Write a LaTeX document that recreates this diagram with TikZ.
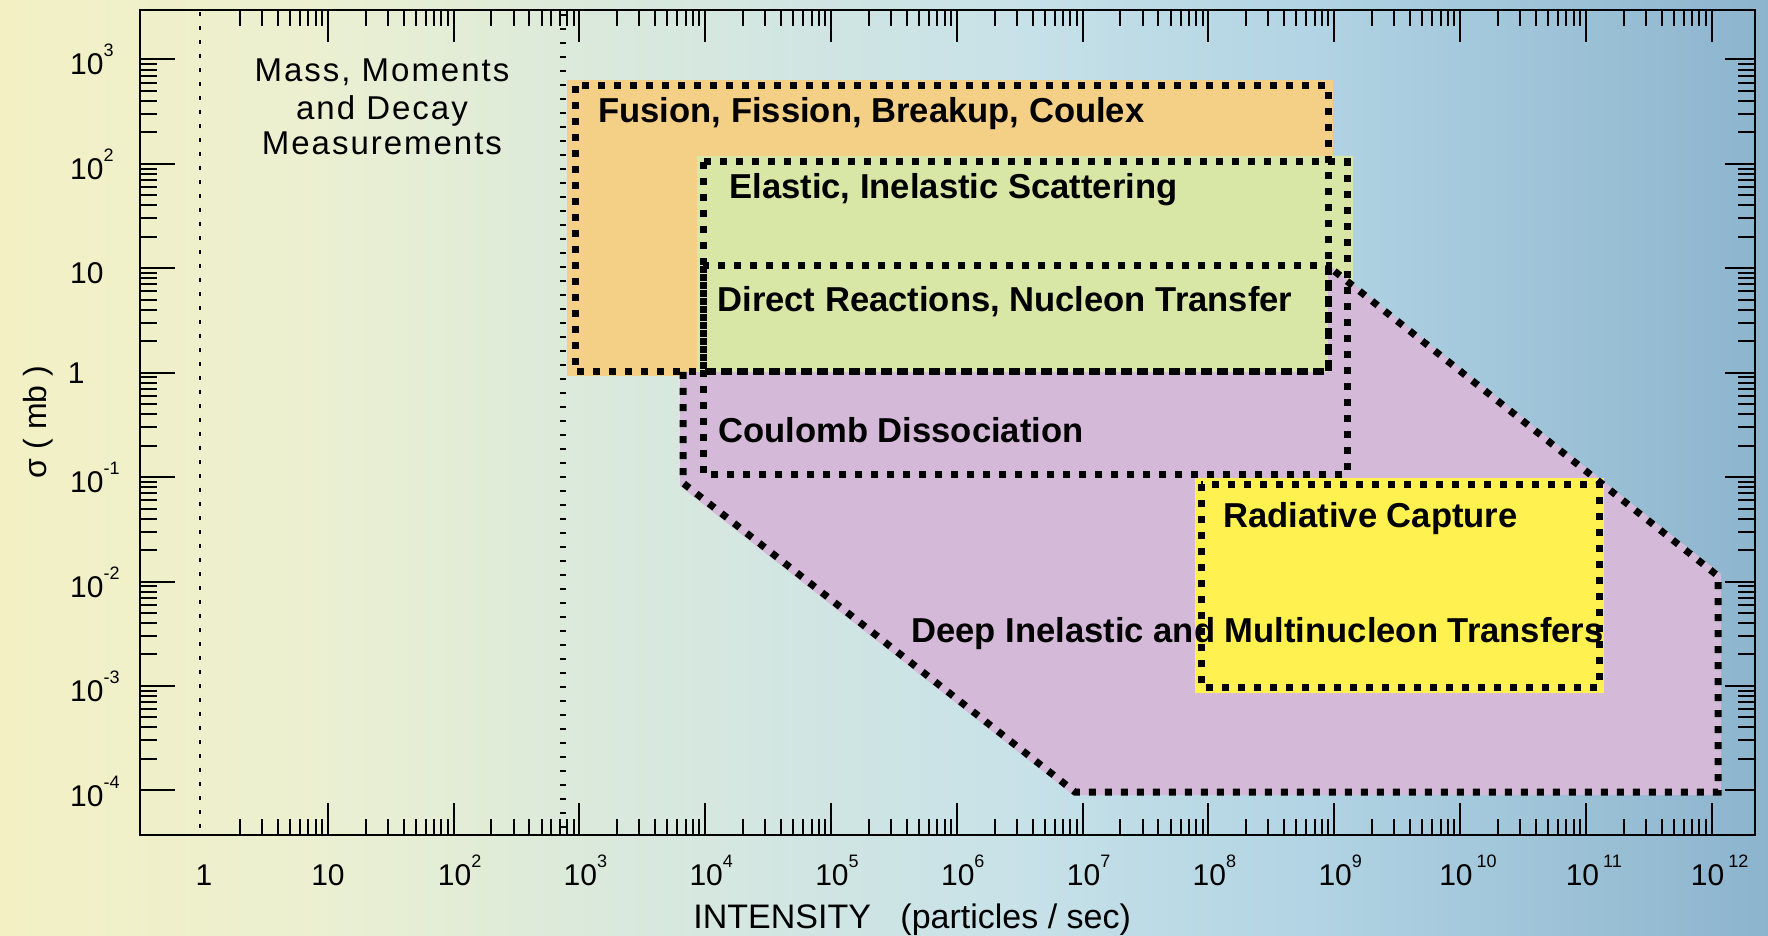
\documentclass[tikz,border=0pt]{standalone}
\usepackage{fontspec}
\setmainfont{Liberation Sans}
\newfontfamily\massfont[LetterSpace=6]{Liberation Sans}
\definecolor{orangefill}{RGB}{244,207,134}
\definecolor{greenfill}{RGB}{216,230,166}
\definecolor{purplefill}{RGB}{213,185,217}
\definecolor{yellowfill}{RGB}{255,241,80}
\pgfdeclarehorizontalshading{bgshade}{100bp}{rgb(0bp)=(0.953,0.941,0.769); rgb(25bp)=(0.953,0.941,0.769); rgb(33.5bp)=(0.925,0.941,0.816); rgb(42bp)=(0.855,0.914,0.863); rgb(53.5bp)=(0.784,0.886,0.91); rgb(62bp)=(0.698,0.831,0.894); rgb(75bp)=(0.549,0.706,0.804); rgb(100bp)=(0.549,0.706,0.804)}
\newcommand\sups[1]{\raisebox{9pt}{\fontsize{9pt}{10pt}\selectfont #1}}
\begin{document}
\begin{tikzpicture}[x=0.5pt,y=-0.5pt,
  dotbox/.style={line width=3.5pt, dash pattern=on 3.5pt off 4.5pt, black},
  guideA/.style={line width=1pt, dash pattern=on 2pt off 5pt, black},
  guideB/.style={line width=3pt, dash pattern=on 1pt off 6pt, black},
  frameline/.style={line width=1.25pt, black},
  tickline/.style={line width=1pt, black},
  xlab/.style={font=\fontsize{15pt}{18pt}\selectfont, anchor=base, inner sep=0pt},
  ylab/.style={font=\fontsize{15pt}{18pt}\selectfont, anchor=base east, inner sep=0pt},
  boldlbl/.style={font=\fontsize{17.3pt}{20pt}\selectfont\bfseries, anchor=base west, inner sep=0pt},
  masslbl/.style={font=\fontsize{16.5pt}{19pt}\massfont, anchor=base, inner sep=0pt}]
\useasboundingbox (0,0) rectangle (1768,936);
\shade[shading=bgshade] (0,0) rectangle (1768,936);

% filled regions
\fill[orangefill] (567,80) rectangle (1333,376);
\fill[purplefill] (680,372) -- (680,486) -- (1073,795) -- (1721,795) -- (1721,574) -- (1328,264) -- (1328,372) -- cycle;
\fill[greenfill] (697,156) -- (1353,156) -- (1353,284) -- (1328,264) -- (1328,372) -- (697,372) -- cycle;
\fill[yellowfill] (1195,478) rectangle (1604,693);

% guide lines
\draw[guideA] (200,12) -- (200,835);
\draw[guideB] (563,14) -- (563,835);

% dotted outlines
\draw[dotbox] (575,86) rectangle (1328,372);
\draw[dotbox] (703,162) rectangle (1347,474);
\draw[dotbox] (703,266) rectangle (1328,372);
\draw[dotbox] (683,372) -- (683,483) -- (1075,792) -- (1718,792) -- (1718,576) -- (1328,266);
\draw[dotbox] (1201,484) rectangle (1599,687);

% frame
\draw[frameline] (140,10) rectangle (1755,835);

% x ticks
\foreach \k in {0,...,11}{
  \foreach \m in {2,...,9}{
    \draw[tickline] ({202+125.8*(\k+log10(\m))},835) -- ++(0,-16);
    \draw[tickline] ({202+125.8*(\k+log10(\m))},10) -- ++(0,16);
  }
}
\foreach \k in {1,...,12}{
  \draw[tickline] ({202+125.8*\k},835) -- ++(0,-32);
  \draw[tickline] ({202+125.8*\k},10) -- ++(0,32);
}
% y ticks
\foreach \k in {-4,...,2}{
  \foreach \m in {2,...,9}{
    \draw[tickline] (140,{372.7-104.4*(\k+log10(\m))}) -- ++(17,0);
    \draw[tickline] (1755,{372.7-104.4*(\k+log10(\m))}) -- ++(-17,0);
  }
}
\foreach \k in {-4,...,3}{
  \draw[tickline] (140,{372.7-104.4*\k}) -- ++(35,0);
  \draw[tickline] (1755,{372.7-104.4*\k}) -- ++(-30,0);
}

% x tick labels
\node[xlab] (xl0) at (204,885) {1};
\node[xlab] (xl1) at (328,885) {10};
\foreach \n in {2,...,9}{
  \node[xlab] (xl\n) at ({202+125.8*\n+6},885) {10\sups{\n}};
}
\foreach \n in {10,11,12}{
  \node[xlab] (xl\n) at ({202+125.8*\n+8},885) {10\kern2pt\sups{\n}};
}
% y tick labels
\node[ylab] (yl3) at (104,75) {10\rlap{\sups{3}}};
\node[ylab] (yl2) at (104,179.4) {10\rlap{\sups{2}}};
\node[ylab] (yl1) at (104,283.8) {10};
\node[ylab] (yl0) at (85,384) {1};
\node[ylab] (ylm1) at (104,492) {10\rlap{\sups{-1}}};
\node[ylab] (ylm2) at (104,597) {10\rlap{\sups{-2}}};
\node[ylab] (ylm3) at (104,701) {10\rlap{\sups{-3}}};
\node[ylab] (ylm4) at (104,806) {10\rlap{\sups{-4}}};

% axis titles
\node[font=\fontsize{16pt}{19pt}\selectfont, rotate=90, inner sep=0pt] (ytitle) at (38,422) {σ ( mb )};
\node[font=\fontsize{17pt}{20pt}\selectfont, anchor=base west, inner sep=0pt] (xtitle) at (693,928) {INTENSITY\hspace{10pt} (particles / sec)};

% region labels
\node[masslbl] (mass1) at (382,81.7) {Mass, Moments};
\node[masslbl] (mass2) at (382,120) {and Decay};
\node[masslbl] (mass3) at (382,155) {Measurements};
\node[boldlbl] (fusion) at (598,123) {Fusion, Fission, Breakup, Coulex};
\node[boldlbl] (elastic) at (729,199) {Elastic, Inelastic Scattering};
\node[boldlbl] (direct) at (717,312) {Direct Reactions, Nucleon Transfer};
\node[boldlbl] (coulomb) at (718,443) {Coulomb Dissociation};
\node[boldlbl] (radiative) at (1223,527) {Radiative Capture};
\node[boldlbl] (deep) at (911,642) {Deep Inelastic and Multinucleon Transfers};
\end{tikzpicture}
\end{document}
